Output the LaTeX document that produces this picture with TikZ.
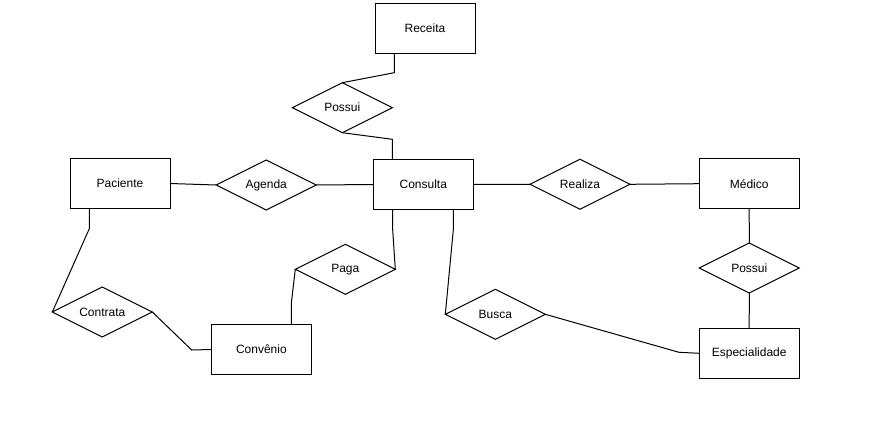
\documentclass[tikz,border=0pt]{standalone}
\usepackage{fontspec}
\setmainfont{Liberation Sans}
\usetikzlibrary{shapes.geometric}
\begin{document}
\begin{tikzpicture}[x=1pt,y=-1pt,line width=1pt,
  ent/.style={draw,rectangle,minimum width=100pt,minimum height=50pt,inner sep=0pt,outer sep=0pt,font=\fontsize{12pt}{14pt}\selectfont},
  rel/.style={draw,diamond,aspect=2,minimum width=100pt,minimum height=50pt,inner sep=0pt,outer sep=0pt,font=\fontsize{12pt}{14pt}\selectfont},
  conn/.style={draw,line width=1pt}]
\useasboundingbox (0,0) rectangle (870,428);
% entities
\node[ent] (rec) at (425,28.5) {Receita};
\node[ent] (pac) at (120,183.5) {Paciente};
\node[ent] (con) at (423.3,184.5) {Consulta};
\node[ent] (med) at (749.2,183.7) {Médico};
\node[ent] (cv) at (261.4,349.5) {Convênio};
\node[ent] (esp) at (749.2,353.3) {Especialidade};
% relationships
\node[rel] (pos1) at (342.3,107.7) {Possui};
\node[rel] (ag) at (266.2,185) {Agenda};
\node[rel] (real) at (580,184.3) {Realiza};
\node[rel] (pos2) at (749.3,268) {Possui};
\node[rel] (paga) at (345.3,269.3) {Paga};
\node[rel] (ctr) at (102.3,312) {Contrata};
\node[rel] (busca) at (495.3,314.3) {Busca};
% bend points
\coordinate (b1) at (394.3,72.7);
\coordinate (b2) at (392.3,139.3);
\coordinate (b3) at (89.3,228.7);
\coordinate (b4) at (191.7,350);
\coordinate (b5) at (291.3,303.3);
\coordinate (b6) at (392.7,230);
\coordinate (b7) at (453.3,230);
\coordinate (b8) at (679,352.3);
% connectors
\draw[conn] (rec.south -| b1) -- (b1) -- (pos1.north);
\draw[conn] (pos1.south) -- (b2) -- (con.north -| b2);
\draw[conn] (pac.east) -- (ag.west);
\draw[conn] (ag.east) -- (con.west);
\draw[conn] (con.east) -- (real.west);
\draw[conn] (real.east) -- (med.west);
\draw[conn] (med.south) -- (pos2.north);
\draw[conn] (pos2.south) -- (esp.north);
\draw[conn] (pac.south -| b3) -- (b3) -- (ctr.west);
\draw[conn] (ctr.east) -- (b4) -- (cv.west);
\draw[conn] (cv.north -| b5) -- (b5) -- (paga.west);
\draw[conn] (con.south -| b6) -- (b6) -- (paga.east);
\draw[conn] (con.south -| b7) -- (b7) -- (busca.west);
\draw[conn] (busca.east) -- (b8) -- (esp.west);
\end{tikzpicture}
\end{document}
